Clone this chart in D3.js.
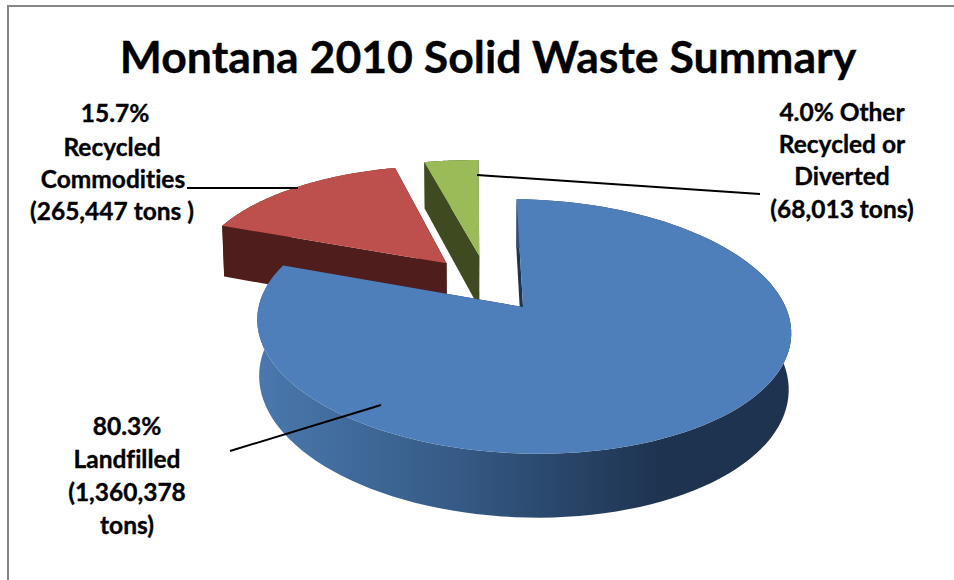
<!DOCTYPE html>
<html>
<head>
<meta charset="utf-8">
<script src="https://cdn.jsdelivr.net/npm/d3@7"></script>
<style>
html,body{margin:0;padding:0;background:#fff}
svg{display:block}
text{font-family:Lato,"Open Sans",sans-serif;font-weight:700;fill:#000;stroke:#000;stroke-width:.35px;text-anchor:middle;font-variant-ligatures:none}
</style>
</head>
<body>
<svg id="chart" width="954" height="580"></svg>
<script>
// Waste streams and their tonnage
const categories = ["Landfilled", "Recycled Commodities", "Other Recycled or Diverted"];
const tons = [1360378, 265447, 68013];
const topColors = ["#4e7fba", "#bd4f4c", "#9bbb59"];
const wallColors = ["#2f5078", "#4f1e1c", "#3f4a21"];
const titleText = "Montana 2010 Solid Waste Summary";
const labelLines = [
  ["80.3%", "Landfilled", "(1,360,378", "tons)"],
  ["15.7%", "Recycled", "Commodities", "(265,447 tons )"],
  ["4.0% Other", "Recycled or", "Diverted", "(68,013 tons)"]
];

const svg = d3.select("#chart");

// Frame on the top and left edges
svg.append("path").attr("d", "M8,580V6H954").attr("fill", "none").attr("stroke", "#868686").attr("stroke-width", 2);

svg.append("text").attr("x", 488).attr("y", 73).attr("font-size", 44.6).text(titleText);

// Perspective view of a unit disc: the far side shrinks, lower layers shrink slightly
const view = {x0: 487.5, y0: 284, a: 256.5, b: 117.5, k: 0.148, m: 0.008, depth: 54.5, shear: -2, roll: 3};
function project(u, v, z) {
  const w = 1 + view.k * v + view.m * z;
  return [
    view.x0 + (view.a * u + view.shear * v) / w,
    view.y0 + (-view.b * v + view.depth * z + view.roll * u) / w
  ];
}

// How far each slice is pulled out from the centre of the disc
const explode = [0.23, 0.24, 0.25];
const slices = d3.pie().sort(null).startAngle(0).endAngle(2 * Math.PI)(tons).map((s, i) => {
  const mid = (s.startAngle + s.endAngle) / 2;
  return {...s, i, cu: explode[i] * Math.sin(mid), cv: explode[i] * Math.cos(mid)};
});

const rimPoint = (s, a, z) => project(s.cu + Math.sin(a), s.cv + Math.cos(a), z);
const arcAngles = s => d3.range(0, 121).map(j => s.startAngle + (s.endAngle - s.startAngle) * j / 120);
const line = d3.line();

const rimGradient = svg.append("defs").append("linearGradient")
  .attr("id", "rimShade").attr("gradientUnits", "userSpaceOnUse")
  .attr("x1", 258).attr("x2", 660).attr("y1", 0).attr("y2", 0);
rimGradient.append("stop").attr("offset", 0).attr("stop-color", "#4a78ad");
rimGradient.append("stop").attr("offset", 0.5).attr("stop-color", "#355a85");
rimGradient.append("stop").attr("offset", 1).attr("stop-color", "#1e3350");

// Farthest slices first so the landfill slice overlaps the others
const order = [2, 1, 0];
order.forEach(i => {
  const s = slices[i];
  const g = svg.append("g").attr("class", "slice");
  const apexTop = project(s.cu, s.cv, 0), apexBase = project(s.cu, s.cv, 1);
  const wall = i === 0 ? "url(#rimShade)" : wallColors[i];
  const cutFill = i === 0 ? "#1e3350" : wallColors[i];

  // Two cut faces running from the apex to the rim
  [s.startAngle, s.endAngle].forEach(a => {
    g.append("path")
      .attr("d", line([apexTop, rimPoint(s, a, 0), rimPoint(s, a, 1), apexBase]) + "Z")
      .attr("fill", cutFill);
  });

  // Outer wall of the slice
  const angles = arcAngles(s);
  const rim = angles.map(a => rimPoint(s, a, 0)).concat(angles.slice().reverse().map(a => rimPoint(s, a, 1)));
  g.append("path").attr("d", line(rim) + "Z").attr("fill", wall);

  // Top face
  const top = [apexTop].concat(angles.map(a => rimPoint(s, a, 0)));
  g.append("path").attr("d", line(top) + "Z").attr("fill", topColors[i]);
});

// Leader lines from each label to its slice
const leaders = [
  [[230, 451], [381, 405]],
  [[187, 188], [298, 188]],
  [[477, 175], [760, 194]]
];
leaders.forEach(l => {
  svg.append("path").attr("d", line(l)).attr("fill", "none").attr("stroke", "#000").attr("stroke-width", 2);
});

// Multi-line slice labels
const labelAnchors = [
  {x: [127, 127, 127, 127], y: [435, 468, 501, 534]},
  {x: [115, 112, 113, 112], y: [122, 156, 188, 220]},
  {x: [842, 842, 842, 842], y: [121, 153, 185, 218]}
];
labelLines.forEach((lines, i) => {
  lines.forEach((t, j) => {
    svg.append("text").attr("x", labelAnchors[i].x[j]).attr("y", labelAnchors[i].y[j])
      .attr("font-size", 24.5).text(t);
  });
});
</script>
</body>
</html>
